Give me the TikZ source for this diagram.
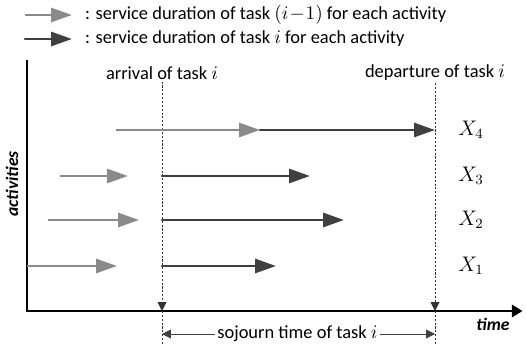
\documentclass[tikz,border=0pt]{standalone}
\usepackage{fontspec}
\setmainfont{Carlito}
\usetikzlibrary{arrows.meta}

\definecolor{prevgray}{HTML}{8A8A8A}
\definecolor{curgray}{HTML}{3F3F3F}

\tikzset{
  prev/.style={draw=prevgray,line width=1.7pt,
    -{Triangle[length=0.42cm,width=0.28cm]}},
  cur/.style={draw=curgray,line width=1.7pt,line cap=round,
    -{Triangle[length=0.42cm,width=0.28cm]}},
  axis/.style={black,line width=1.2pt,-{Triangle[length=6pt,width=7pt]}},
  guide/.style={black!80,line width=0.5pt,dash pattern=on 1.2pt off 1pt},
  span/.style={black!75,line width=0.5pt,-{Triangle[length=5pt,width=5pt]}},
  txt/.style={font=\fontsize{10.5}{12}\selectfont,inner sep=1pt},
  axlabel/.style={font=\fontsize{10}{12}\selectfont\bfseries\itshape},
  xlabel/.style={font=\fontsize{12}{14}\selectfont}
}

\begin{document}
\begin{tikzpicture}
  \useasboundingbox (0,0) rectangle (10.52,6.9);
  % legend
  \coordinate (lp1) at (0.5,6.6);
  \coordinate (lp2) at (1.44,6.6);
  \coordinate (lc1) at (0.5,6.12);
  \coordinate (lc2) at (1.44,6.12);
  \draw[prev] (lp1) -- (lp2);
  \draw[cur]  (lc1) -- (lc2);
  \node[txt,anchor=west] (lprev) at (1.66,6.6)
        {: service duration of task $(i\!-\!1)$ for each activity};
  \node[txt,anchor=west] (lcur) at (1.66,6.12)
        {: service duration of task $i$ for each activity};
  % axes
  \coordinate (O)    at (0.54,0.68);
  \coordinate (ytop) at (0.54,5.7);
  \coordinate (xend) at (10.45,0.68);
  \draw[axis] (ytop) -- (O) -- (xend);
  \node[axlabel,rotate=90] (act) at (0.24,3.22) {activities};
  \node[axlabel] (time) at (9.86,0.42) {time};
  % arrival and departure of task i
  \node[txt] (arr) at (3.24,5.44) {arrival of task $i$};
  \node[txt] (dep) at (8.7,5.44) {departure of task $i$};
  \coordinate (ta) at (3.24,0.68);
  \coordinate (ba) at (3.24,0);
  \coordinate (td) at (8.7,0.68);
  \coordinate (bd) at (8.7,0);
  \draw[guide,-{Triangle[length=5pt,width=5pt]}] (arr.south) -- (ta);
  \draw[guide] (ta) -- (ba);
  \draw[guide,-{Triangle[length=5pt,width=5pt]}] (dep.south) -- (td);
  \draw[guide] (td) -- (bd);
  % sojourn time
  \node[txt] (soj) at (5.95,0.22) {sojourn time of task $i$};
  \draw[span] (soj.west) -- (soj.west -| ta);
  \draw[span] (soj.east) -- (soj.east -| td);
  % X4
  \coordinate (s4) at (2.32,4.3);
  \coordinate (m4) at (5.2,4.3);
  \coordinate (e4) at (8.7,4.3);
  \draw[cur]  (m4) -- (e4);
  \draw[prev] (s4) -- (m4);
  \node[xlabel] (x4) at (9.42,4.3) {$X_4$};
  % X3
  \coordinate (s3) at (1.2,3.38);
  \coordinate (p3) at (2.56,3.38);
  \coordinate (a3) at (3.24,3.38);
  \coordinate (e3) at (6.2,3.38);
  \draw[prev] (s3) -- (p3);
  \draw[cur]  (a3) -- (e3);
  \node[xlabel] (x3) at (9.42,3.38) {$X_3$};
  % X2
  \coordinate (s2) at (0.96,2.5);
  \coordinate (p2) at (2.78,2.5);
  \coordinate (a2) at (3.24,2.5);
  \coordinate (e2) at (6.88,2.5);
  \draw[prev] (s2) -- (p2);
  \draw[cur]  (a2) -- (e2);
  \node[xlabel] (x2) at (9.42,2.5) {$X_2$};
  % X1
  \coordinate (s1) at (0.54,1.58);
  \coordinate (p1) at (2.34,1.58);
  \coordinate (a1) at (3.24,1.58);
  \coordinate (e1) at (5.52,1.58);
  \draw[prev] (s1) -- (p1);
  \draw[cur]  (a1) -- (e1);
  \node[xlabel] (x1) at (9.42,1.58) {$X_1$};
\end{tikzpicture}
\end{document}
